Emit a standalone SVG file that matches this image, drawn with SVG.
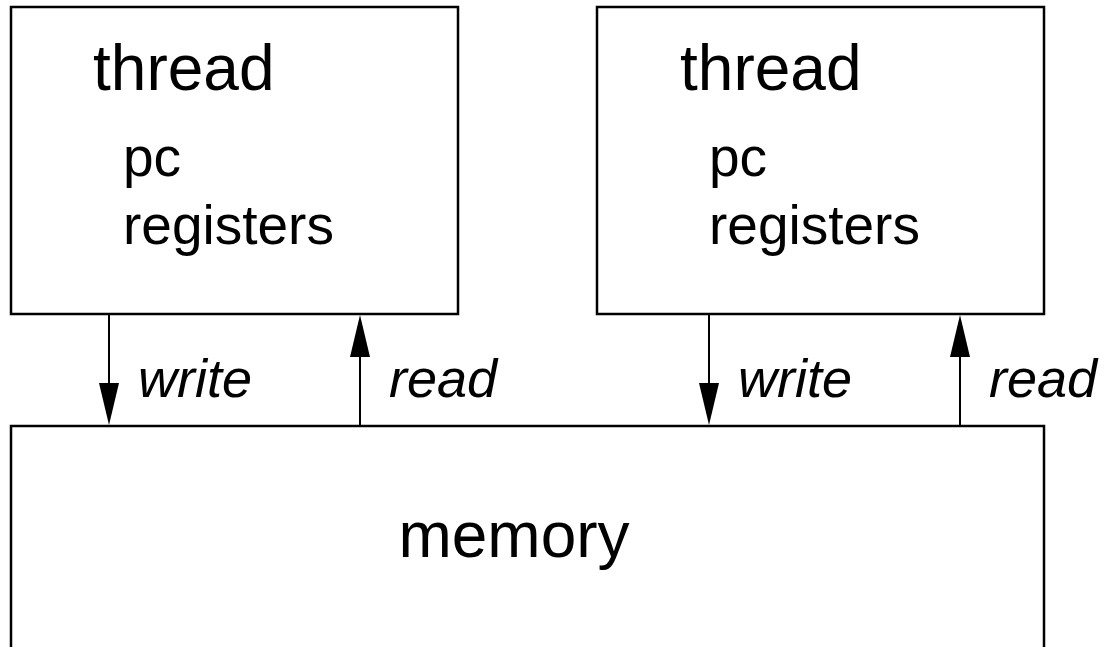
<svg xmlns="http://www.w3.org/2000/svg" width="1109" height="647" viewBox="0 0 1109 647">
  <style>
    .box { fill: #fff; stroke: #000; stroke-width: 2.5; }
    .wire { stroke: #000; stroke-width: 2; fill: none; }
    .head { fill: #000; }
    text { font-family: "Liberation Sans", Arial, sans-serif; fill: #000; }
    .title { font-size: 64px; }
    .item { font-size: 55px; }
    .label { font-size: 54px; font-style: italic; }
  </style>
  <rect width="1109" height="647" fill="#fff"/>

  <g id="thread-left">
    <rect class="box" x="11" y="7" width="447" height="307"/>
    <text class="title" x="93" y="90">thread</text>
    <text class="item" x="123" y="176">pc</text>
    <text class="item" x="123" y="244">registers</text>
  </g>

  <g id="thread-right">
    <rect class="box" x="597" y="7" width="447" height="307"/>
    <text class="title" x="680" y="90">thread</text>
    <text class="item" x="709" y="176">pc</text>
    <text class="item" x="709" y="244">registers</text>
  </g>

  <g id="memory">
    <rect class="box" x="11" y="426" width="1033" height="240"/>
    <text class="title" x="514" y="557" text-anchor="middle">memory</text>
  </g>

  <g id="connectors">
    <!-- left thread: write down, read up -->
    <line class="wire" x1="109" y1="314" x2="109" y2="390"/>
    <polygon class="head" points="99,383 119,383 109,425"/>
    <line class="wire" x1="360" y1="350" x2="360" y2="426"/>
    <polygon class="head" points="350,357 370,357 360,315"/>
    <!-- right thread: write down, read up -->
    <line class="wire" x1="709" y1="314" x2="709" y2="390"/>
    <polygon class="head" points="699,383 719,383 709,425"/>
    <line class="wire" x1="960" y1="350" x2="960" y2="426"/>
    <polygon class="head" points="950,357 970,357 960,315"/>
  </g>

  <g id="labels">
    <text class="label" x="138" y="397">write</text>
    <text class="label" x="389" y="397">read</text>
    <text class="label" x="738" y="397">write</text>
    <text class="label" x="989" y="397">read</text>
  </g>
</svg>
